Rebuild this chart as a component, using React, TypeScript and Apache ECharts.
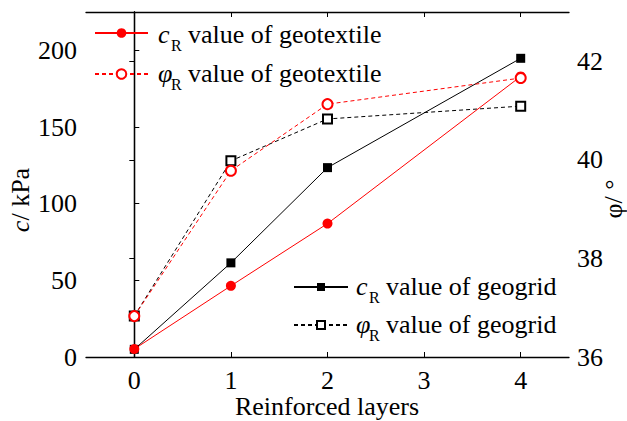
import React, { useEffect, useRef } from "react";
import * as echarts from "echarts";

const layers = [0, 1, 2, 4];
const xTicks = [0, 1, 2, 3, 4];
const cGeotextile = [5.2, 46.4, 87, 183];
const phiGeotextile = [36.83, 39.78, 41.13, 41.66];
const cGeogrid = [5, 61.4, 123.5, 194.8];
const phiGeogrid = [36.83, 39.98, 40.83, 41.09];

const legendSymbols = ["c", "φ", "c", "φ"];
const legendTexts = ["value of geotextile", "value of geotextile", "value of geogrid", "value of geogrid"];

const FONT = "'Liberation Serif', 'Times New Roman', serif";
const FS = 26;
const RED = "#ff0000";
const BLACK = "#000000";

const pairs = (ys: number[]) => layers.map((x, i) => [x, ys[i]]);

function makeLegend(name: string, left: number, centerY: number, w: number, h: number) {
  return {
    data: [name],
    left,
    top: centerY - h / 2,
    orient: "vertical",
    padding: 0,
    itemWidth: w,
    itemHeight: h,
    formatter: () => "",
    textStyle: { fontSize: 1 },
  };
}

function legendText(idx: number, x: number, baseline: number) {
  const cy = baseline - FS * 0.34;
  return [
    {
      type: "text",
      x,
      y: cy,
      style: {
        text: legendSymbols[idx],
        fontFamily: FONT,
        fontSize: FS,
        fontStyle: "italic",
        fill: "#000",
        verticalAlign: "middle",
        align: "left",
      },
    },
    {
      type: "text",
      x: x + 13,
      y: baseline + 8 - 16 * 0.34,
      style: {
        text: "R",
        fontFamily: FONT,
        fontSize: 16,
        fill: "#000",
        verticalAlign: "middle",
        align: "left",
      },
    },
    {
      type: "text",
      x: x + 30,
      y: cy,
      style: {
        text: legendTexts[idx],
        fontFamily: FONT,
        fontSize: FS,
        fill: "#000",
        verticalAlign: "middle",
        align: "left",
      },
    },
  ];
}

export default function App() {
  const ref = useRef<HTMLDivElement>(null);
  useEffect(() => {
    if (!ref.current) return;
    const chart = echarts.init(ref.current, null, { renderer: "svg" });
    chart.setOption({
      animation: false,
      backgroundColor: "#fff",
      textStyle: { fontFamily: FONT },
      grid: { left: 86, right: 58, top: 12, bottom: 64, containLabel: false, outerBoundsMode: "none" },
      legend: [
        makeLegend("cTex", 94, 33, 53, 12),
        makeLegend("phiTex", 94, 74, 53, 12),
        makeLegend("cGrid", 293, 287, 54, 10),
        makeLegend("phiGrid", 293, 325, 54, 10),
      ],
      graphic: [
        ...legendText(0, 158, 43),
        ...legendText(1, 158, 82),
        ...legendText(2, 356, 295),
        ...legendText(3, 356, 333),
        {
          type: "text",
          x: 20,
          y: 200,
          rotation: Math.PI / 2,
          style: {
            text: "{i|c}/ kPa",
            fontFamily: FONT,
            fontSize: FS,
            fill: "#000",
            align: "center",
            verticalAlign: "middle",
            rich: { i: { fontFamily: FONT, fontSize: FS, fontStyle: "italic", fill: "#000" } },
          },
        },
        {
          type: "text",
          x: 613,
          y: 199,
          rotation: Math.PI / 2,
          style: {
            text: "φ/ °",
            fontFamily: FONT,
            fontSize: FS,
            fill: "#000",
            align: "center",
            verticalAlign: "middle",
          },
        },
        {
          type: "text",
          x: 327,
          y: 406,
          style: {
            text: "Reinforced layers",
            fontFamily: FONT,
            fontSize: FS,
            fill: "#000",
            align: "center",
            verticalAlign: "middle",
          },
        },
      ],
      xAxis: [
        {
          type: "value",
          min: -0.5,
          max: 4.5,
          position: "bottom",
          axisLine: { show: true, lineStyle: { color: "#000", width: 1.3 } },
          axisTick: { show: true, inside: true, length: 5, customValues: xTicks, lineStyle: { color: "#000" } },
          axisLabel: { customValues: xTicks, fontFamily: FONT, fontSize: FS, color: "#000", margin: 10 },
          splitLine: { show: false },
        },
        {
          type: "value",
          min: -0.5,
          max: 4.5,
          position: "top",
          axisLine: { show: true, lineStyle: { color: "#000", width: 1.3 } },
          axisTick: { show: true, inside: true, length: 5, customValues: xTicks, lineStyle: { color: "#000" } },
          axisLabel: { show: false },
          splitLine: { show: false },
        },
      ],
      yAxis: [
        {
          type: "value",
          min: 0,
          max: 225,
          interval: 50,
          position: "left",
          axisLine: { show: true, lineStyle: { color: "#000", width: 1.3 } },
          axisTick: { show: true, inside: true, length: 5, lineStyle: { color: "#000" } },
          axisLabel: {
            fontFamily: FONT,
            fontSize: FS,
            color: "#000",
            margin: 9,
            formatter: (v: number) => (v > 200 ? "" : String(v)),
          },
          splitLine: { show: false },
        },
        {
          type: "value",
          min: 36,
          max: 43,
          interval: 2,
          position: "right",
          axisLine: { show: true, lineStyle: { color: "#000", width: 1.3 } },
          axisTick: { show: true, inside: true, length: 5, lineStyle: { color: "#000" } },
          axisLabel: {
            fontFamily: FONT,
            fontSize: FS,
            color: "#000",
            margin: 8,
            formatter: (v: number) => (v > 42 ? "" : String(v)),
          },
          splitLine: { show: false },
        },
      ],
      series: [
        {
          name: "cGrid",
          type: "line",
          yAxisIndex: 0,
          data: pairs(cGeogrid),
          symbol: "rect",
          symbolSize: 9,
          itemStyle: { color: BLACK },
          lineStyle: { color: BLACK, width: 1, type: "solid" },
        },
        {
          name: "phiGrid",
          type: "line",
          yAxisIndex: 1,
          data: pairs(phiGeogrid),
          symbol: "emptyRect",
          symbolSize: 9,
          itemStyle: { color: BLACK, borderWidth: 1 },
          lineStyle: { color: BLACK, width: 1, type: [4, 3] },
        },
        {
          name: "cTex",
          type: "line",
          yAxisIndex: 0,
          data: pairs(cGeotextile),
          symbol: "circle",
          symbolSize: 10,
          itemStyle: { color: RED },
          lineStyle: { color: RED, width: 1, type: "solid" },
        },
        {
          name: "phiTex",
          type: "line",
          yAxisIndex: 1,
          data: pairs(phiGeotextile),
          symbol: "emptyCircle",
          symbolSize: 10,
          itemStyle: { color: RED, borderWidth: 1 },
          lineStyle: { color: RED, width: 1, type: [4, 3] },
        },
      ],
    });
    return () => chart.dispose();
  }, []);
  return (
    <div
      ref={ref}
      style={{ position: "fixed", left: 0, top: 0, width: 627, height: 421 }}
    />
  );
}
